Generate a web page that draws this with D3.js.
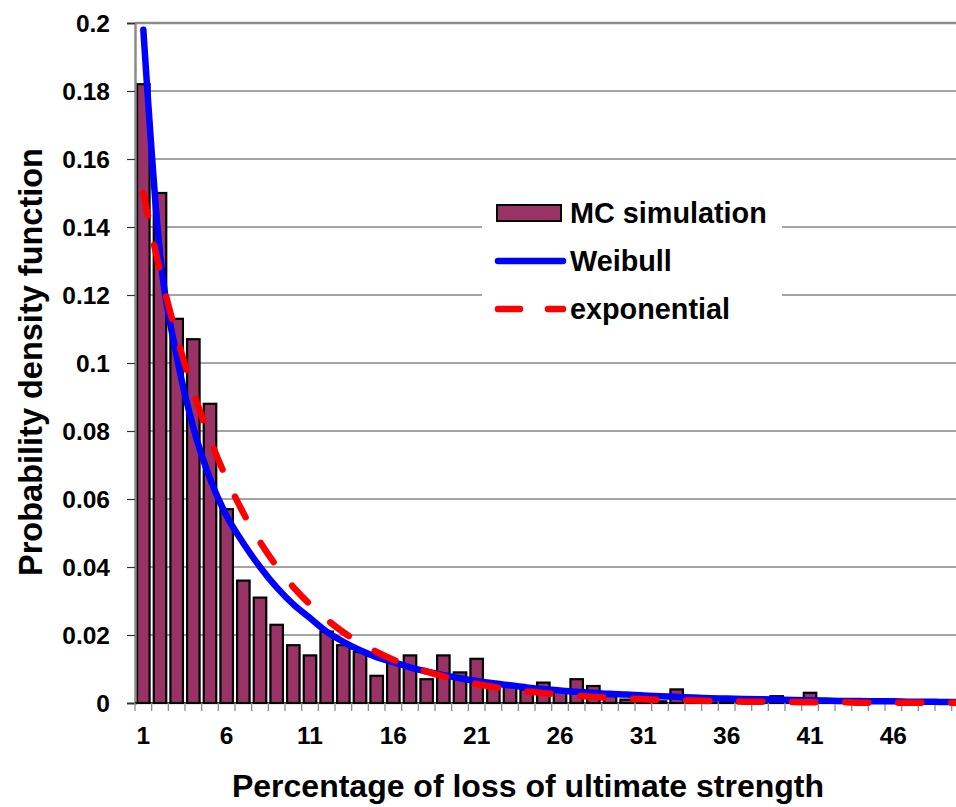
<!DOCTYPE html>
<html>
<head>
<meta charset="utf-8">
<script src="https://cdn.jsdelivr.net/npm/d3@7"></script>
<style>
  body { margin: 0; background: #fff; }
  text { font-family: "Liberation Sans", Arial, sans-serif; font-weight: bold; fill: #000; }
</style>
</head>
<body>
<div id="chart"></div>
<script>
// categories: percentage of loss (1..50)
const categories = d3.range(1, 51);

// MC simulation histogram
const mcValues = [
  0.182, 0.150, 0.113, 0.107, 0.088, 0.057, 0.036, 0.031, 0.023, 0.017,
  0.014, 0.021, 0.017, 0.015, 0.008, 0.012, 0.014, 0.007, 0.014, 0.009,
  0.013, 0.006, 0.005, 0.004, 0.006, 0.004, 0.007, 0.005, 0.002, 0.001,
  0.001, 0.0005, 0.004, 0.001, 0.001, 0.0005, 0.0005, 0.001, 0.002, 0.001,
  0.003, 0.0005, 0.0005, 0.0005, 0, 0.0005, 0, 0, 0, 0
];

// fitted Weibull pdf
const weibullValues = [
  0.198, 0.132, 0.102, 0.081, 0.066, 0.055, 0.047, 0.040, 0.034, 0.029,
  0.025, 0.021, 0.018, 0.0155, 0.0135, 0.012, 0.0105, 0.0093, 0.0082, 0.0073,
  0.0065, 0.0058, 0.0052, 0.0046, 0.0041, 0.0037, 0.0033, 0.0030, 0.0027, 0.0025,
  0.0022, 0.0020, 0.0018, 0.0016, 0.0014, 0.0013, 0.0012, 0.0011, 0.0010, 0.0009,
  0.0008, 0.0007, 0.0006, 0.0006, 0.0005, 0.0005, 0.0004, 0.0004, 0.0003, 0.0003
];

// fitted exponential pdf
const expValues = [
  0.150, 0.127, 0.108, 0.0916, 0.0777, 0.0659, 0.0559, 0.0474, 0.0402, 0.0341,
  0.0290, 0.0246, 0.0208, 0.0177, 0.0150, 0.0127, 0.0108, 0.0092, 0.0078, 0.0066,
  0.0056, 0.0047, 0.0040, 0.0034, 0.0029, 0.0025, 0.0021, 0.0018, 0.0015, 0.0013,
  0.0011, 0.0009, 0.0008, 0.0007, 0.0006, 0.0005, 0.0004, 0.0004, 0.0003, 0.0003,
  0.0002, 0.0002, 0.0002, 0.0001, 0.0001, 0.0001, 0.0001, 0.0001, 0.0001, 0.0001
];

const yTickValues = [0, 0.02, 0.04, 0.06, 0.08, 0.1, 0.12, 0.14, 0.16, 0.18, 0.2];
const xTickLabels = [1, 6, 11, 16, 21, 26, 31, 36, 41, 46];

const seriesNames = ["MC simulation", "Weibull", "exponential"];

const width = 956, height = 807;
const plotLeft = 135, plotTop = 23, plotBottom = 703;
const step = 16.667;

const svg = d3.select("#chart").append("svg")
  .attr("width", width)
  .attr("height", height);

const x = d3.scaleBand()
  .domain(categories)
  .range([plotLeft, plotLeft + step * categories.length])
  .paddingInner(0.25)
  .paddingOuter(0.125);

const y = d3.scaleLinear()
  .domain([0, 0.2])
  .range([plotBottom, plotTop]);

const cx = c => x(c) + x.bandwidth() / 2;

// gridlines
svg.append("g")
  .selectAll("line")
  .data(yTickValues.filter(v => v > 0))
  .join("line")
  .attr("x1", plotLeft)
  .attr("x2", width)
  .attr("y1", d => y(d))
  .attr("y2", d => y(d))
  .attr("stroke", d => d === 0.2 ? "#8c8c8c" : "#4a4a4a")
  .attr("stroke-width", d => d === 0.2 ? 2.5 : 1.2);

// bars
svg.append("g")
  .selectAll("rect")
  .data(categories.map((c, i) => ({ c, v: mcValues[i] })).filter(d => d.v > 0))
  .join("rect")
  .attr("x", d => x(d.c))
  .attr("y", d => y(d.v))
  .attr("width", x.bandwidth())
  .attr("height", d => y(0) - y(d.v))
  .attr("fill", "#993366")
  .attr("stroke", "#000")
  .attr("stroke-width", 2.2);

// y axis
const yAxis = svg.append("g")
  .attr("transform", `translate(${plotLeft},0)`)
  .call(d3.axisLeft(y)
    .tickValues(yTickValues)
    .tickSize(8)
    .tickPadding(17)
    .tickFormat(d => d3.format("~g")(d)));
yAxis.select(".domain").attr("stroke", "#8c8c8c").attr("stroke-width", 2.5);
yAxis.selectAll(".tick line").attr("stroke", "#333").attr("stroke-width", 1.2);
yAxis.selectAll(".tick text")
  .style("font-size", "24.5px")
  .attr("dy", "0.36em");

// x axis
svg.append("line")
  .attr("x1", plotLeft).attr("x2", width)
  .attr("y1", plotBottom).attr("y2", plotBottom)
  .attr("stroke", "#000").attr("stroke-width", 1.5);

const boundaries = categories.map(c => x(c) - x.step() * x.paddingInner() / 2);
svg.append("g")
  .selectAll("line")
  .data(boundaries)
  .join("line")
  .attr("x1", d => d).attr("x2", d => d)
  .attr("y1", plotBottom).attr("y2", plotBottom + 8)
  .attr("stroke", "#8c8c8c")
  .attr("stroke-width", 1.3);

svg.append("g")
  .selectAll("text")
  .data(xTickLabels)
  .join("text")
  .attr("x", d => cx(d))
  .attr("y", 744)
  .attr("text-anchor", "middle")
  .style("font-size", "24.5px")
  .text(d => d);

// lines
const line = vals => d3.line()
  .x((d, i) => cx(categories[i]))
  .y(d => y(d))
  .curve(d3.curveMonotoneX)(vals);

svg.append("path")
  .attr("d", line(weibullValues))
  .attr("fill", "none")
  .attr("stroke", "#0000ff")
  .attr("stroke-width", 6.5)
  .attr("stroke-linecap", "round");

svg.append("path")
  .attr("d", line(expValues))
  .attr("fill", "none")
  .attr("stroke", "#ff0000")
  .attr("stroke-width", 6.5)
  .attr("stroke-linecap", "round")
  .attr("stroke-dasharray", "23,30");

// legend
const legend = svg.append("g");
legend.append("rect")
  .attr("x", 482).attr("y", 188)
  .attr("width", 300).attr("height", 144)
  .attr("fill", "#fff");

legend.append("rect")
  .attr("x", 497).attr("y", 205)
  .attr("width", 64).attr("height", 16)
  .attr("fill", "#993366")
  .attr("stroke", "#000")
  .attr("stroke-width", 2);

legend.append("line")
  .attr("x1", 498).attr("x2", 563)
  .attr("y1", 261).attr("y2", 261)
  .attr("stroke", "#0000ff")
  .attr("stroke-width", 6.5)
  .attr("stroke-linecap", "round");

legend.append("line")
  .attr("x1", 498).attr("x2", 563)
  .attr("y1", 309).attr("y2", 309)
  .attr("stroke", "#ff0000")
  .attr("stroke-width", 6.5)
  .attr("stroke-linecap", "round")
  .attr("stroke-dasharray", "22,28");

legend.selectAll("text")
  .data(seriesNames)
  .join("text")
  .attr("x", 570)
  .attr("y", (d, i) => 223 + i * 48)
  .style("font-size", "28.8px")
  .text(d => d);

// axis titles
svg.append("text")
  .attr("x", 528)
  .attr("y", 797)
  .attr("text-anchor", "middle")
  .style("font-size", "32px")
  .text("Percentage of loss of ultimate strength");

svg.append("text")
  .attr("transform", "translate(42,362) rotate(-90)")
  .attr("text-anchor", "middle")
  .style("font-size", "32.5px")
  .text("Probability density function");
</script>
</body>
</html>
